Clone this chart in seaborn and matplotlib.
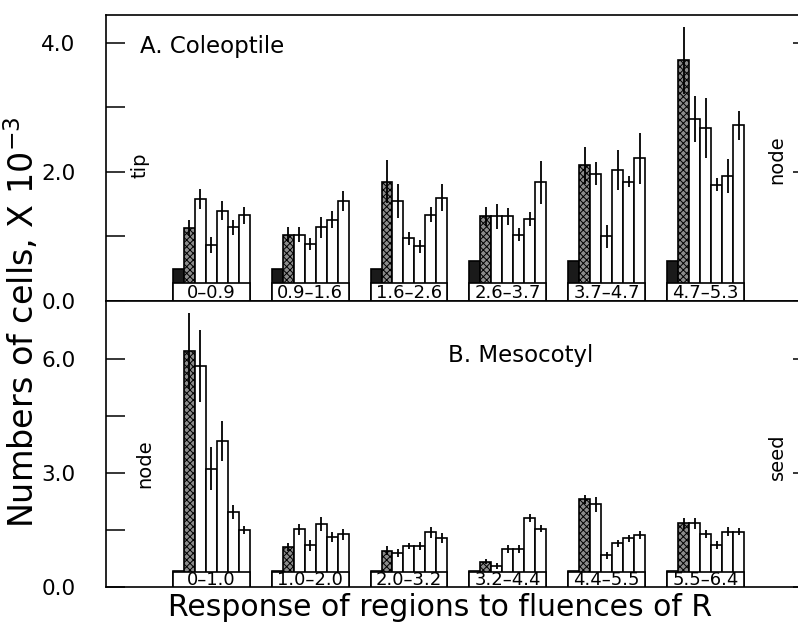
import numpy as np
import pandas as pd
import seaborn as sns
import matplotlib.pyplot as plt
from matplotlib.patches import Rectangle
from matplotlib.ticker import FixedLocator

# Step 1: data (cells x 10^-3), 7 bars per fluence group
top_groups = ["0–0.9", "0.9–1.6", "1.6–2.6", "2.6–3.7", "3.7–4.7", "4.7–5.3"]
top_vals = [
    [0.49, 1.13, 1.58, 0.87, 1.40, 1.14, 1.33],
    [0.49, 1.03, 1.03, 0.88, 1.14, 1.26, 1.55],
    [0.49, 1.85, 1.55, 0.97, 0.85, 1.34, 1.60],
    [0.62, 1.31, 1.31, 1.31, 1.03, 1.27, 1.84],
    [0.62, 2.10, 1.97, 1.00, 2.03, 1.85, 2.21],
    [0.62, 3.73, 2.82, 2.68, 1.80, 1.94, 2.72],
]
top_err = [
    [0, 0.13, 0.16, 0.12, 0.15, 0.12, 0.13],
    [0, 0.12, 0.12, 0.09, 0.16, 0.13, 0.16],
    [0, 0.33, 0.27, 0.10, 0.10, 0.11, 0.21],
    [0, 0.15, 0.20, 0.13, 0.10, 0.11, 0.33],
    [0, 0.28, 0.18, 0.18, 0.31, 0.08, 0.40],
    [0, 0.52, 0.36, 0.46, 0.10, 0.26, 0.22],
]

bot_groups = ["0–1.0", "1.0–2.0", "2.0–3.2", "3.2–4.4", "4.4–5.5", "5.5–6.4"]
bot_vals = [
    [0.42, 6.22, 5.82, 3.12, 3.84, 1.97, 1.50],
    [0.42, 1.06, 1.52, 1.10, 1.66, 1.32, 1.39],
    [0.42, 0.96, 0.89, 1.08, 1.08, 1.44, 1.28],
    [0.42, 0.67, 0.55, 1.00, 1.00, 1.81, 1.54],
    [0.42, 2.31, 2.18, 0.84, 1.15, 1.28, 1.37],
    [0.42, 1.68, 1.68, 1.39, 1.10, 1.46, 1.46],
]
bot_err = [
    [0, 1.00, 0.95, 0.57, 0.53, 0.18, 0.10],
    [0, 0.10, 0.15, 0.14, 0.18, 0.14, 0.15],
    [0, 0.11, 0.10, 0.09, 0.10, 0.15, 0.13],
    [0, 0.07, 0.07, 0.10, 0.10, 0.10, 0.10],
    [0, 0.12, 0.20, 0.09, 0.10, 0.10, 0.10],
    [0, 0.14, 0.14, 0.10, 0.10, 0.13, 0.10],
]
slots = list(range(7))


def to_long(groups, vals, errs):
    rows = []
    for g, v, e in zip(groups, vals, errs):
        for s in slots:
            rows.append({"group": g, "slot": s, "value": v[s], "err": e[s]})
    return pd.DataFrame(rows)


sns.set_style("ticks")
plt.rcParams['font.family'] = ['DejaVu Sans']
plt.rcParams['hatch.linewidth'] = 0.7
for key in ['text.color', 'axes.labelcolor', 'xtick.color', 'ytick.color']:
    plt.rcParams[key] = 'black'

fig = plt.figure(figsize=(7.98, 6.31), dpi=100)
ax1 = fig.add_axes([0.133, 0.523, 0.885, 0.453])
ax2 = fig.add_axes([0.133, 0.0697, 0.885, 0.4533])


def draw_panel(ax, df, groups, first_color, box_h, ylim, major, minor):
    pal = [first_color, "#8c8c8c"] + ["white"] * 5
    sns.barplot(data=df, x="group", y="value", hue="slot", order=groups,
                palette=pal, width=7 / 9, gap=0, dodge=True, errorbar=None,
                saturation=1, edgecolor="black", linewidth=1.2, legend=False, ax=ax)
    bars = list(ax.containers)
    # stipple on the second bar
    for bar in bars[1]:
        bar.set_hatch("xxxxx")
    # error bars, no caps
    for k, cont in enumerate(bars):
        sub = df[df["slot"] == k].set_index("group").loc[groups]
        xs = np.array([b.get_x() + b.get_width() / 2 for b in cont])
        ys = np.array([b.get_height() for b in cont])
        e = sub["err"].values
        m = e > 0
        if m.any():
            ax.errorbar(xs[m], ys[m], yerr=e[m], fmt="none",
                        ecolor="black", elinewidth=1.3, capsize=0, zorder=3)
    # label boxes under each group
    for i, g in enumerate(groups):
        left = bars[0][i].get_x()
        right = bars[6][i].get_x() + bars[6][i].get_width()
        ax.add_patch(Rectangle((left, 0), right - left, box_h, facecolor="white",
                               edgecolor="black", linewidth=1.2, zorder=4))
        ax.text((left + right) / 2, box_h * 0.45, g, ha="center", va="center",
                fontsize=13, zorder=5)
    ax.set_xlim(-1.063, 6.08)
    ax.set_ylim(*ylim)
    ax.set_xlabel("")
    ax.set_ylabel("")
    ax.set_xticks([])
    ax.set_yticks(major)
    ax.set_yticklabels([f"{t:.1f}" for t in major])
    ax.yaxis.set_minor_locator(FixedLocator(minor))
    ax.tick_params(axis="y", which="major", direction="in", length=14, width=1.1,
                   left=True, right=True, labelsize=15.5, pad=22)
    ax.tick_params(axis="y", which="minor", direction="in", length=14, width=1.1,
                   left=True, right=False)
    for side in ["left", "top", "bottom"]:
        ax.spines[side].set_visible(True)
        ax.spines[side].set_linewidth(1.2)
        ax.spines[side].set_color("black")
    ax.spines["right"].set_visible(False)


draw_panel(ax1, to_long(top_groups, top_vals, top_err), top_groups, "#1a1a1a",
           0.28, (0, 4.43), [0, 2, 4], [1, 3])
draw_panel(ax2, to_long(bot_groups, bot_vals, bot_err), bot_groups, "white",
           0.40, (0, 7.53), [0, 3, 6], [1.5, 4.5])

# panel titles and region words
ax1.text(0.048, 0.89, "A. Coleoptile", transform=ax1.transAxes, fontsize=16.5,
         va="center")
ax2.text(0.484, 0.81, "B. Mesocotyl", transform=ax2.transAxes, fontsize=16.5,
         va="center")
ax1.text(0.048, 0.476, "tip", transform=ax1.transAxes, rotation=90, fontsize=14,
         ha="center", va="center")
ax1.text(0.95, 0.493, "node", transform=ax1.transAxes, rotation=90, fontsize=14,
         ha="center", va="center")
ax2.text(0.055, 0.43, "node", transform=ax2.transAxes, rotation=90, fontsize=14,
         ha="center", va="center")
ax2.text(0.95, 0.455, "seed", transform=ax2.transAxes, rotation=90, fontsize=14,
         ha="center", va="center")

fig.text(0.027, 0.49, r"Numbers of cells, X 10$^{-3}$", rotation=90, fontsize=24,
         ha="center", va="center")
fig.text(0.551, 0.038, "Response of regions to fluences of R", fontsize=21.5,
         ha="center", va="center")

fig.savefig("out.png", dpi=100)
